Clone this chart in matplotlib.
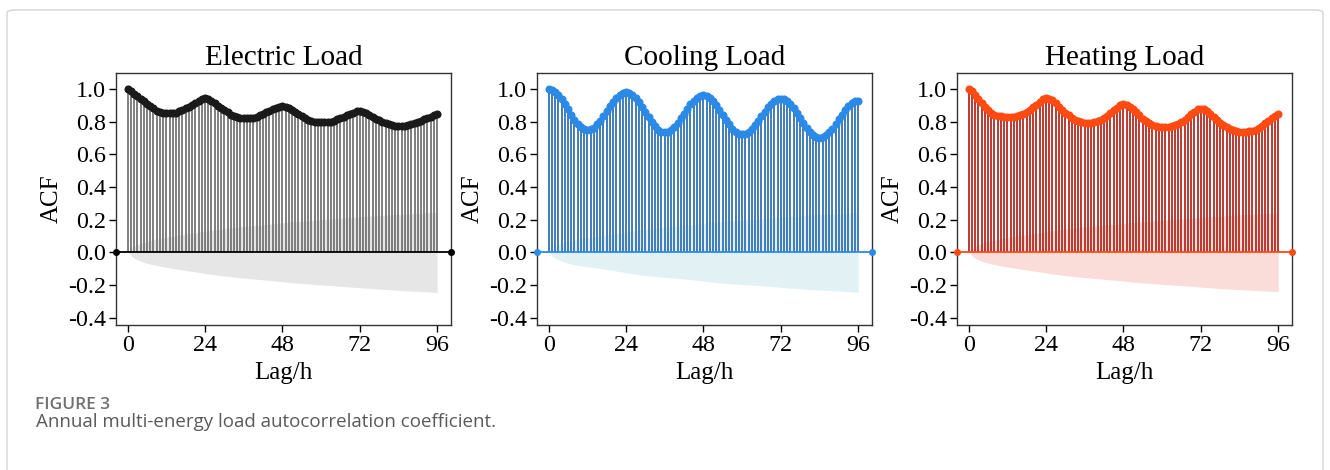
import matplotlib
matplotlib.use("Agg")
import matplotlib.pyplot as plt
from matplotlib.patches import FancyBboxPatch
import numpy as np

# ACF values, lag 0..96 (hours)
lags = np.arange(97)

electric_acf = [
    1.000, 0.985, 0.970, 0.955, 0.940, 0.925, 0.910, 0.895, 0.880, 0.866,
    0.857, 0.852, 0.851, 0.851, 0.852, 0.855, 0.862, 0.872, 0.882, 0.892,
    0.902, 0.912, 0.924, 0.937, 0.946, 0.938, 0.926, 0.912, 0.898, 0.884,
    0.870, 0.856, 0.843, 0.832, 0.825, 0.821, 0.820, 0.820, 0.821, 0.824,
    0.830, 0.838, 0.847, 0.856, 0.865, 0.874, 0.883, 0.891, 0.896, 0.890,
    0.880, 0.869, 0.857, 0.845, 0.833, 0.822, 0.812, 0.804, 0.799, 0.796,
    0.795, 0.795, 0.796, 0.800, 0.806, 0.814, 0.822, 0.830, 0.838, 0.846,
    0.854, 0.862, 0.867, 0.861, 0.851, 0.840, 0.829, 0.818, 0.808, 0.798,
    0.789, 0.782, 0.777, 0.774, 0.773, 0.772, 0.773, 0.776, 0.782, 0.789,
    0.797, 0.806, 0.814, 0.822, 0.830, 0.838, 0.846,
]

cooling_acf = [
    1.000, 0.996, 0.983, 0.963, 0.937, 0.907, 0.874, 0.841, 0.811, 0.785,
    0.765, 0.752, 0.748, 0.752, 0.763, 0.782, 0.806, 0.833, 0.863, 0.893,
    0.921, 0.944, 0.963, 0.974, 0.978, 0.974, 0.962, 0.943, 0.917, 0.888,
    0.857, 0.825, 0.796, 0.771, 0.751, 0.739, 0.735, 0.739, 0.750, 0.768,
    0.792, 0.819, 0.848, 0.877, 0.905, 0.928, 0.946, 0.957, 0.961, 0.957,
    0.945, 0.926, 0.901, 0.872, 0.842, 0.811, 0.782, 0.757, 0.738, 0.726,
    0.722, 0.726, 0.737, 0.754, 0.777, 0.803, 0.831, 0.859, 0.886, 0.908,
    0.925, 0.936, 0.940, 0.936, 0.924, 0.905, 0.880, 0.851, 0.820, 0.789,
    0.760, 0.735, 0.716, 0.704, 0.700, 0.704, 0.715, 0.733, 0.757, 0.784,
    0.814, 0.843, 0.870, 0.894, 0.912, 0.923, 0.927,
]

heating_acf = [
    1.000, 0.985, 0.963, 0.938, 0.913, 0.890, 0.870, 0.854, 0.843, 0.836,
    0.831, 0.829, 0.828, 0.828, 0.830, 0.833, 0.838, 0.846, 0.857, 0.871,
    0.887, 0.904, 0.922, 0.936, 0.943, 0.940, 0.929, 0.912, 0.892, 0.872,
    0.853, 0.837, 0.823, 0.811, 0.803, 0.797, 0.794, 0.793, 0.794, 0.797,
    0.802, 0.810, 0.821, 0.835, 0.851, 0.868, 0.885, 0.900, 0.906, 0.903,
    0.892, 0.876, 0.857, 0.837, 0.818, 0.802, 0.789, 0.779, 0.772, 0.768,
    0.766, 0.766, 0.767, 0.770, 0.776, 0.785, 0.797, 0.812, 0.828, 0.845,
    0.861, 0.874, 0.879, 0.875, 0.864, 0.848, 0.829, 0.810, 0.792, 0.777,
    0.764, 0.754, 0.747, 0.742, 0.739, 0.738, 0.738, 0.740, 0.744, 0.751,
    0.761, 0.774, 0.789, 0.805, 0.821, 0.835, 0.846,
]

titles = ["Electric Load", "Cooling Load", "Heating Load"]
series = [electric_acf, cooling_acf, heating_acf]
n_obs = 8760  # hourly samples in one year

# stem colour, marker colour, zero line colour, band colour
styles = [
    ("#7a7a7a", "#1a1a1a", "#000000", "#e6e6e6"),
    ("#3a78b8", "#2b8ae6", "#2b8ae6", "#e2f2f4"),
    ("#b8322a", "#ff4a12", "#ff4a12", "#fadcd8"),
]

serif = "Liberation Serif"

fig = plt.figure(figsize=(13.3, 4.7), dpi=100)

# light frame around the figure, like the journal page
frame = FancyBboxPatch((7 / 1330, -0.1), 1316 / 1330, (470 - 10) / 470 + 0.1,
                       boxstyle="round,pad=0,rounding_size=0.006",
                       transform=fig.transFigure, fill=False,
                       edgecolor="#d4d4d4", linewidth=1.0)
fig.patches.append(frame)

lefts = [116, 537, 957]
for i in range(3):
    ax = fig.add_axes([lefts[i] / 1330, 1 - 325 / 470, 335 / 1330, 252 / 470])
    acf = np.array(series[i])
    stem_c, mark_c, line_c, band_c = styles[i]

    # Bartlett confidence band around zero
    var = np.ones(len(acf))
    var[0] = 0
    var[1] = 1.0 / n_obs
    var[2:] = (1 + 2 * np.cumsum(acf[1:-1] ** 2)) / n_obs
    band = 1.96 * np.sqrt(var)
    band_lags = lags.astype(float)
    band_lags[0] += 0.5
    ax.fill_between(band_lags, -band, band, color=band_c, linewidth=0, zorder=0)

    ax.vlines(lags, 0, acf, color=stem_c, linewidth=1.35, zorder=2)
    ax.axhline(0, color=line_c, linewidth=1.3, marker="o", markersize=4, zorder=3,
               clip_on=False)
    ax.plot(lags, acf, "o", color=mark_c, markersize=4.8, zorder=4)

    ax.set_xlim(-3.6, 100.3)
    ax.set_ylim(-0.445, 1.097)
    ax.set_xticks([0, 24, 48, 72, 96])
    ax.set_yticks([1.0, 0.8, 0.6, 0.4, 0.2, 0.0, -0.2, -0.4])
    ax.set_yticklabels(["1.0", "0.8", "0.6", "0.4", "0.2", "0.0", "-0.2", "-0.4"])
    for lab in ax.get_xticklabels() + ax.get_yticklabels():
        lab.set_fontfamily(serif)
        lab.set_fontsize(17.3)
    ax.tick_params(direction="out", length=5, width=1, pad=2)
    for sp in ax.spines.values():
        sp.set_color("#333333")
        sp.set_linewidth(1.0)
    ax.set_title(titles[i], fontfamily=serif, fontsize=21, pad=6)
    ax.set_xlabel("Lag/h", fontfamily=serif, fontsize=18, labelpad=4.5)
    ax.set_ylabel("ACF", fontfamily=serif, fontsize=18, labelpad=4)

fig.text(35 / 1330, 1 - 409 / 470, "FIGURE 3", fontfamily="Open Sans",
         fontsize=12.5, fontweight="semibold", color="#707070")
fig.text(36 / 1330, 1 - 427 / 470, "Annual multi-energy load autocorrelation coefficient.",
         fontfamily="Open Sans", fontsize=13.5, color="#5a5a5a")

fig.savefig("out.png", dpi=100)
